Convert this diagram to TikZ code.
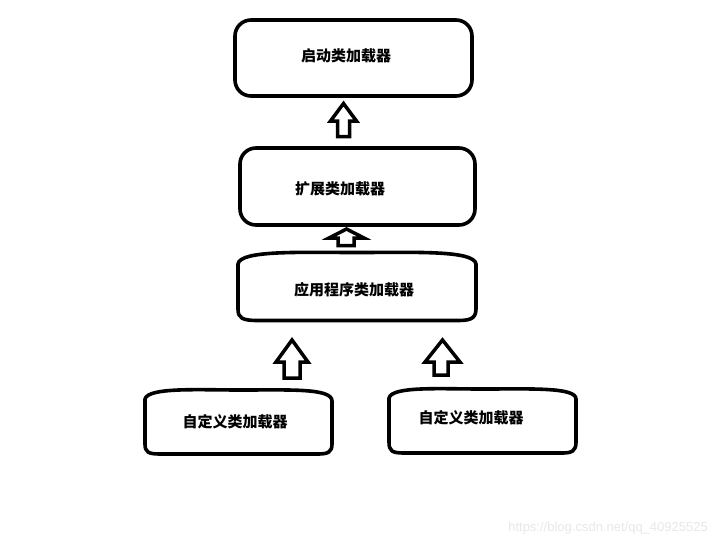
\documentclass[tikz,border=0pt]{standalone}
\usepackage{fontspec}
\setsansfont{Liberation Sans}
\newfontfamily\cjk{Noto Sans CJK SC}
\begin{document}
\begin{tikzpicture}[x=1pt,y=-1pt,
  frame/.style={draw=black,line width=3.6pt,line join=round},
  lbl/.style={font=\cjk\bfseries\fontsize{15}{17}\selectfont,inner sep=0pt,anchor=center},
  hollow/.style={draw=black,fill=white,line width=3.5pt,line join=miter}]
\useasboundingbox[fill=white] (0,0) rectangle (717,547);
% boxes
\node[frame,rounded corners=16pt,minimum width=237pt,minimum height=76pt,inner sep=0pt] (b1) at (353.5,58) {};
\node[frame,rounded corners=16pt,minimum width=235pt,minimum height=77pt,inner sep=0pt] (b2) at (357.5,186.5) {};
\draw[frame] (238,264) .. controls (240,250) and (300,252.5) .. (357,252.5)
  .. controls (414,252.5) and (474,250) .. (476,264) -- (476,309)
  .. controls (476,320) and (468,320.5) .. (456,320.5) -- (258,320.5)
  .. controls (242,320.5) and (238,318) .. (238,309) -- cycle;
\draw[frame] (145,399) .. controls (148,387) and (200,390) .. (240,390)
  .. controls (290,390) and (332,388) .. (332,401) -- (332,444)
  .. controls (332,452) and (328,454) .. (318,454) -- (160,454)
  .. controls (148,454) and (145,452) .. (145,444) -- cycle;
\draw[frame] (389,398) .. controls (392,386) and (440,389) .. (482,389)
  .. controls (530,389) and (576,387) .. (576,399) -- (576,442)
  .. controls (576,451) and (572,453) .. (562,453) -- (404,453)
  .. controls (392,453) and (389,451) .. (389,442) -- cycle;
% labels
\node[lbl] (t1) at (346,56) {启动类加载器};
\node[lbl] (t2) at (340,189) {扩展类加载器};
\node[lbl] (t3) at (354,290) {应用程序类加载器};
\node[lbl] (t4) at (235,422) {自定义类加载器};
\node[lbl] (t5) at (471,418) {自定义类加载器};
% hollow arrows
\draw[hollow] (343.5,103.5) -- (356.5,121) -- (349.5,121) -- (349.5,136.5) -- (337.5,136.5) -- (337.5,121) -- (330.5,121) -- cycle;
\draw[hollow] (346.5,229) -- (364,238) -- (354,238) -- (354,245.5) -- (338,245.5) -- (338,238) -- (329,238) -- cycle;
\draw[hollow] (292,340) -- (308,362) -- (300,362) -- (300,378) -- (284,378) -- (284,362) -- (276,362) -- cycle;
\draw[hollow] (442.5,340) -- (460,362) -- (448,362) -- (448,375) -- (434,375) -- (434,362) -- (425,362) -- cycle;
% watermark
\node[font=\sffamily\fontsize{13}{15}\selectfont,text=black!9,anchor=east,inner sep=0pt] (wm) at (708,528) {https://blog.csdn.net/qq\_40925525};
\end{tikzpicture}
\end{document}
